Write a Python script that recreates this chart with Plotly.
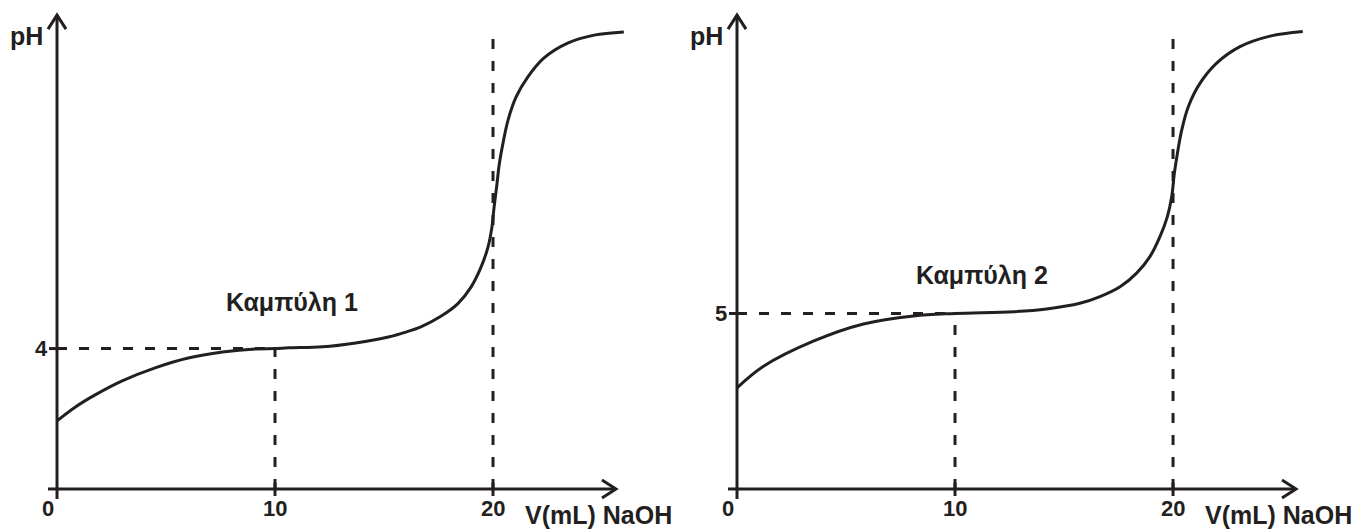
import plotly.graph_objects as go
from plotly.subplots import make_subplots

# ---- data ----
volume_ml_1 = [0, 0.83, 1.75, 2.99, 4.5, 6.02, 7.59, 9.1, 10, 10.62, 12.18, 13.7, 15.2, 16.0, 16.69,
               17.61, 18.39, 18.99, 19.45, 19.77, 19.95, 20.05, 20.18, 20.28, 20.46, 20.69, 21.06,
               21.6, 22.34, 23.45, 24.64, 26.0]
ph_curve1 = [1.94, 2.33, 2.68, 3.08, 3.45, 3.73, 3.90, 3.99, 4.0, 4.02, 4.05, 4.16, 4.33, 4.47, 4.62,
             4.92, 5.28, 5.75, 6.32, 6.89, 7.46, 8.03, 8.68, 9.22, 9.86, 10.51, 11.17,
             11.74, 12.28, 12.71, 12.93, 13.02]
volume_ml_2 = [0, 1.2, 3.5, 5.8, 8.1, 10, 12.7, 14.2, 15.73, 16.65, 17.57, 18.33, 18.94, 19.4,
               19.74, 19.94, 20.06, 20.2, 20.4, 20.7, 21.24, 22.0, 23.07, 24.45, 25.95]
ph_curve2 = [2.88, 3.49, 4.21, 4.70, 4.93, 5.0, 5.05, 5.13, 5.29, 5.48, 5.76, 6.15, 6.62, 7.19,
             7.76, 8.33, 8.99, 9.56, 10.23, 10.89, 11.56, 12.13, 12.6, 12.9, 13.03]
curve_names = ["Καμπύλη 1", "Καμπύλη 2"]
half_eq_volume = 10
eq_volume = 20
half_eq_ph = [4, 5]
x_tick_vals = [0, 10, 20]
x_tick_text = ["0", "10", "20"]
x_label = "V(mL) NaOH"
y_label = "pH"

INK = "#231f20"
FONT = "Liberation Sans, Arial, sans-serif"

# axis extents (data units)
X_AXIS_END = 25.64
Y_AXIS_END = 13.5
DASH_TOP = 13.08

fig = make_subplots(rows=1, cols=2, horizontal_spacing=0)
fig.update_layout(
    width=1354, height=529, margin=dict(l=0, r=0, t=0, b=0),
    paper_bgcolor="white", plot_bgcolor="white", showlegend=False,
)
fig.update_xaxes(row=1, col=1, domain=[0, 0.5], range=[-2.615, 28.44])
fig.update_xaxes(row=1, col=2, domain=[0.5, 1], range=[-2.752, 28.30])
fig.update_yaxes(range=[-1.14, 13.93])
fig.update_xaxes(visible=False, fixedrange=True)
fig.update_yaxes(visible=False, fixedrange=True)

curves = [(volume_ml_1, ph_curve1), (volume_ml_2, ph_curve2)]
label_pos = [(10.78, 5.33), (11.24, 6.09)]

for i, (vol, ph) in enumerate(curves):
    col = i + 1
    xr = "x" if i == 0 else "x2"
    yr = "y" if i == 0 else "y2"

    # dashed guide lines
    dash = dict(color=INK, width=3, dash="10px,12px")
    fig.add_shape(type="line", xref=xr, yref=yr, x0=0, x1=half_eq_volume,
                  y0=half_eq_ph[i], y1=half_eq_ph[i], line=dash, layer="below")
    fig.add_shape(type="line", xref=xr, yref=yr, x0=half_eq_volume, x1=half_eq_volume,
                  y0=0, y1=half_eq_ph[i], line=dash, layer="below")
    fig.add_shape(type="line", xref=xr, yref=yr, x0=eq_volume, x1=eq_volume,
                  y0=0, y1=DASH_TOP, line=dash, layer="below")

    # curve
    fig.add_trace(go.Scatter(x=vol, y=ph, mode="lines",
                             line=dict(color=INK, width=3, shape="spline", smoothing=1.0),
                             hoverinfo="skip", name=curve_names[i]),
                  row=1, col=col)

    # axes lines (extend a little past the origin)
    axl = dict(color=INK, width=3)
    fig.add_shape(type="line", xref=xr, yref=yr, xsizemode="pixel", xanchor=0,
                  x0=-9, x1=0, y0=0, y1=0, line=axl)
    fig.add_shape(type="line", xref=xr, yref=yr, x0=0, x1=X_AXIS_END, y0=0, y1=0, line=axl)
    fig.add_shape(type="line", xref=xr, yref=yr, ysizemode="pixel", yanchor=0,
                  x0=0, x1=0, y0=-10, y1=0, line=axl)
    fig.add_shape(type="line", xref=xr, yref=yr, x0=0, x1=0, y0=0, y1=Y_AXIS_END, line=axl)

    # arrow heads (open chevrons)
    fig.add_shape(type="path", xref=xr, yref=yr, xsizemode="pixel", ysizemode="pixel",
                  xanchor=X_AXIS_END, yanchor=0, path="M -14,9 L 0,0 L -14,-9",
                  line=dict(color=INK, width=3))
    fig.add_shape(type="path", xref=xr, yref=yr, xsizemode="pixel", ysizemode="pixel",
                  xanchor=0, yanchor=Y_AXIS_END, path="M -9,-14 L 0,0 L 9,-14",
                  line=dict(color=INK, width=3))

    # tick marks
    for v in x_tick_vals[1:]:
        fig.add_shape(type="line", xref=xr, yref=yr, ysizemode="pixel", yanchor=0,
                      x0=v, x1=v, y0=-7, y1=6, line=dict(color=INK, width=3))
    fig.add_shape(type="line", xref=xr, yref=yr, xsizemode="pixel", xanchor=0,
                  x0=-8, x1=5, y0=half_eq_ph[i], y1=half_eq_ph[i], line=dict(color=INK, width=3))

    # text
    tf = dict(family=FONT, size=22, color=INK, weight="bold")
    lf = dict(family=FONT, size=25, color=INK, weight="bold")
    for v, t in zip(x_tick_vals, x_tick_text):
        fig.add_annotation(xref=xr, yref=yr, x=v, y=0, text=t, showarrow=False,
                           xanchor="center", yanchor="middle",
                           xshift=(-9 if v == 0 else 0), yshift=-20, font=tf)
    fig.add_annotation(xref=xr, yref=yr, x=0, y=half_eq_ph[i], text=str(half_eq_ph[i]),
                       showarrow=False, xanchor="center", yanchor="middle",
                       xshift=-16, yshift=0, font=tf)
    fig.add_annotation(xref=xr, yref=yr, x=24.82, y=0, text=x_label, showarrow=False,
                       xanchor="center", yanchor="middle", yshift=-26, font=lf)
    fig.add_annotation(xref=xr, yref=yr, x=0, y=12.9, text=y_label, showarrow=False,
                       xanchor="center", yanchor="middle", xshift=-31, font=lf)
    fig.add_annotation(xref=xr, yref=yr, x=label_pos[i][0], y=label_pos[i][1],
                       text=curve_names[i], showarrow=False,
                       xanchor="center", yanchor="middle", font=lf)

fig.write_html(
    "out.html",
    config={"displayModeBar": False},
    post_script="document.body.style.margin='0';document.body.style.overflow='hidden';",
)
